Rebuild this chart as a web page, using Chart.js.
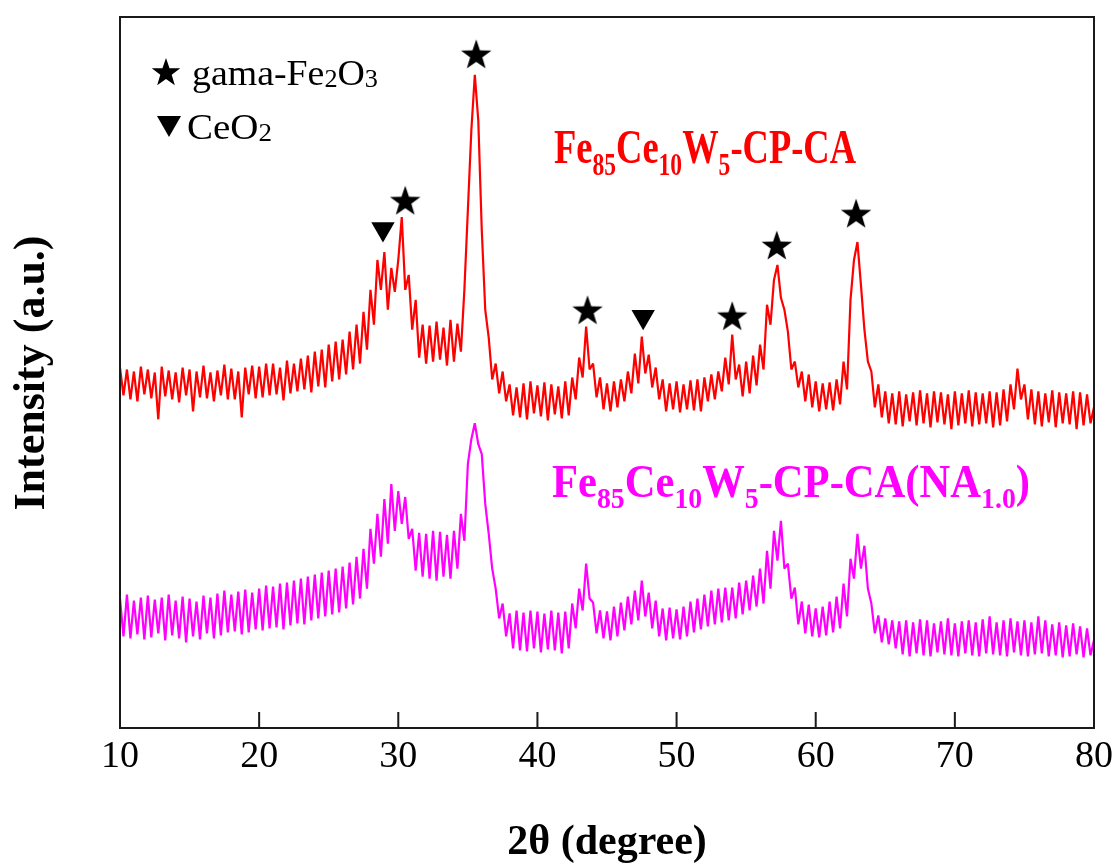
<!DOCTYPE html>
<html>
<head>
<meta charset="utf-8">
<script src="https://cdn.jsdelivr.net/npm/chart.js@4.4.0/dist/chart.umd.min.js"></script>
<style>
  html, body { margin: 0; padding: 0; background: #ffffff; }
  #wrap { width: 1119px; height: 868px; }
</style>
</head>
<body>
<div id="wrap"><canvas id="c" width="1119" height="868"></canvas></div>
<script>
// ---- 2θ sampling grid (degrees) ----
const TWO_THETA_START = 10;
const TWO_THETA_STEP = 0.25;

// ---- x-axis ticks ----
const xTicks = [10, 20, 30, 40, 50, 60, 70, 80];

// ---- Fe85Ce10W5-CP-CA (red), intensity (a.u.), one row per degree ----
const redCounts = [
  362, 334, 360, 330,   // 10
  358, 328, 363, 335,   // 11
  360, 331, 357, 310,   // 12
  363, 333, 359, 330,   // 13
  357, 327, 362, 334,   // 14
  360, 318, 358, 332,   // 15
  364, 331, 357, 328,   // 16
  359, 334, 365, 330,   // 17
  361, 330, 358, 312,   // 18
  362, 335, 364, 331,   // 19
  363, 332, 366, 334,   // 20
  366, 335, 362, 329,   // 21
  369, 336, 366, 338,   // 22
  371, 340, 374, 337,   // 23
  378, 343, 380, 342,   // 24
  385, 348, 388, 350,   // 25
  390, 355, 398, 360,   // 26
  405, 366, 418, 380,   // 27
  440, 405, 470, 440,   // 28
  478, 420, 462, 438,   // 29
  470, 513, 440, 455,   // 30
  400, 430, 372, 405,   // 31
  366, 404, 368, 408,   // 32
  370, 402, 364, 410,   // 33
  368, 406, 378, 440,   // 34
  520, 600, 656, 610,   // 35
  500, 420, 392, 350,   // 36
  366, 336, 358, 328,   // 37
  345, 314, 342, 312,   // 38
  346, 310, 348, 316,   // 39
  344, 313, 347, 309,   // 40
  345, 315, 343, 311,   // 41
  348, 314, 352, 330,   // 42
  372, 352, 403, 360,   // 43
  366, 332, 352, 320,   // 44
  346, 318, 348, 322,   // 45
  350, 328, 358, 336,   // 46
  376, 346, 393, 356,   // 47
  375, 342, 362, 330,   // 48
  350, 318, 346, 320,   // 49
  348, 317, 345, 320,   // 50
  349, 319, 350, 318,   // 51
  352, 328, 355, 330,   // 52
  358, 338, 372, 345,   // 53
  395, 350, 365, 333,   // 54
  368, 336, 374, 344,   // 55
  385, 360, 425, 405,   // 56
  450, 465, 432, 420,   // 57
  398, 360, 368, 342,   // 58
  358, 328, 355, 322,   // 59
  348, 318, 346, 320,   // 60
  347, 319, 350, 325,   // 61
  368, 340, 430, 470,   // 62
  488, 445, 400, 368,   // 63
  358, 322, 345, 312,   // 64
  338, 306, 336, 305,   // 65
  338, 303, 335, 308,   // 66
  337, 304, 339, 306,   // 67
  336, 302, 338, 307,   // 68
  337, 305, 335, 300,   // 69
  338, 304, 336, 306,   // 70
  339, 303, 337, 305,   // 71
  336, 306, 338, 302,   // 72
  337, 304, 340, 308,   // 73
  345, 320, 361, 330,   // 74
  345, 310, 340, 305,   // 75
  338, 303, 336, 307,   // 76
  339, 302, 337, 306,   // 77
  336, 305, 338, 300,   // 78
  337, 304, 335, 306,   // 79
  322                   // 80
];

// ---- Fe85Ce10W5-CP-CA(NA1.0) (magenta) ----
const magentaCounts = [
  130,  92, 134,  90,   // 10
  128,  94, 131,  89,   // 11
  133,  91, 129,  95,   // 12
  131,  88, 134,  93,   // 13
  128,  90, 132,  86,   // 14
  130,  92, 127,  89,   // 15
  133,  95, 131,  90,   // 16
  135,  93, 138,  96,   // 17
  134,  97, 137,  94,   // 18
  139,  96, 136,  99,   // 19
  140,  98, 143, 100,   // 20
  142, 101, 145,  99,   // 21
  146, 103, 148, 105,   // 22
  150, 104, 152, 108,   // 23
  154, 110, 156, 112,   // 24
  158, 114, 160, 116,   // 25
  162, 120, 166, 124,   // 26
  172, 130, 180, 140,   // 27
  200, 165, 215, 172,   // 28
  230, 185, 245, 198,   // 29
  238, 205, 232, 190,   // 30
  200, 158, 196, 152,   // 31
  195, 150, 198, 148,   // 32
  197, 152, 194, 150,   // 33
  198, 160, 215, 188,   // 34
  265, 290, 306, 285,   // 35
  275, 225, 195, 160,   // 36
  140, 110, 125,  92,   // 37
  115,  80, 118,  78,   // 38
  116,  77, 118,  80,   // 39
  117,  76, 115,  79,   // 40
  118,  78, 116,  75,   // 41
  117,  80, 125, 100,   // 42
  140, 118, 165, 130,   // 43
  126,  95, 118,  90,   // 44
  117,  88, 122,  92,   // 45
  126,  98, 132, 104,   // 46
  138, 108, 148, 112,   // 47
  136, 100, 128,  92,   // 48
  120,  88, 121,  90,   // 49
  119,  89, 122,  92,   // 50
  127,  96, 130,  99,   // 51
  134, 102, 138, 104,   // 52
  140, 106, 141, 108,   // 53
  141, 110, 146, 114,   // 54
  148, 118, 153, 122,   // 55
  160, 125, 178, 140,   // 56
  198, 168, 208, 160,   // 57
  165, 130, 141, 104,   // 58
  127,  95, 124,  92,   // 59
  120,  91, 122,  93,   // 60
  127,  96, 132, 100,   // 61
  145, 112, 170, 150,   // 62
  195, 160, 183, 140,   // 63
  125,  95, 113,  86,   // 64
  110,  84, 108,  80,   // 65
  107,  74, 108,  72,   // 66
  106,  75, 109,  73,   // 67
  108,  72, 105,  76,   // 68
  107,  74, 110,  73,   // 69
  105,  72, 107,  75,   // 70
  108,  73, 106,  72,   // 71
  109,  75, 112,  74,   // 72
  106,  73, 108,  72,   // 73
  110,  76, 107,  73,   // 74
  108,  72, 106,  74,   // 75
  112,  75, 108,  72,   // 76
  104,  73, 106,  71,   // 77
  103,  72, 105,  74,   // 78
  102,  71, 100,  73,   // 79
  88                    // 80
];

// ---- phase markers (2θ, intensity) ----
const starX = [30.5, 35.6, 43.6, 54.0, 57.2, 62.9];   // gama-Fe2O3
const starY = [530, 677, 420, 414, 485, 517];
const triX  = [28.9, 47.6];                            // CeO2
const triY  = [501, 413];

// ---------------------------------------------------------------
const toXY = (arr) => arr.map((v, i) => ({ x: TWO_THETA_START + i * TWO_THETA_STEP, y: v }));
const zip = (xs, ys) => xs.map((x, i) => ({ x: x, y: ys[i] }));

function starPath(ctx, cx, cy, R, r) {
  ctx.beginPath();
  for (let k = 0; k < 10; k++) {
    const rad = (k % 2 === 0) ? R : r;
    const a = -Math.PI / 2 + k * Math.PI / 5;
    const px = cx + rad * Math.cos(a), py = cy + rad * Math.sin(a);
    if (k === 0) ctx.moveTo(px, py); else ctx.lineTo(px, py);
  }
  ctx.closePath();
}
function makeStarImage(R) {
  const cv = document.createElement('canvas');
  cv.width = Math.ceil(2 * R + 2); cv.height = Math.ceil(2 * R + 2);
  const g = cv.getContext('2d');
  g.fillStyle = '#000';
  starPath(g, cv.width / 2, cv.height / 2 + R * 0.1, R, R * 0.4);
  g.fill();
  return cv;
}
const starImg = makeStarImage(16);

function drawRich(ctx, parts, x, baseline, mainFont, subFont, subDrop, color, targetWidth) {
  ctx.save();
  ctx.fillStyle = color;
  ctx.textAlign = 'left';
  ctx.textBaseline = 'alphabetic';
  let w = 0;
  parts.forEach(p => { ctx.font = p.sub ? subFont : mainFont; w += ctx.measureText(p.t).width; });
  const sx = targetWidth ? targetWidth / w : 1;
  ctx.translate(x, baseline);
  ctx.scale(sx, 1);
  let cx = 0;
  parts.forEach(p => {
    ctx.font = p.sub ? subFont : mainFont;
    ctx.fillText(p.t, cx, p.sub ? subDrop : 0);
    cx += ctx.measureText(p.t).width;
  });
  ctx.restore();
}

const decor = {
  id: 'decor',
  afterDraw(chart) {
    const { ctx, chartArea: a, scales: { x } } = chart;
    ctx.save();
    // frame
    ctx.strokeStyle = '#1a1a1a';
    ctx.lineWidth = 2;
    ctx.strokeRect(a.left, a.top, a.right - a.left, a.bottom - a.top);
    // inward tick marks on bottom axis
    ctx.beginPath();
    x.ticks.forEach(t => {
      const px = x.getPixelForValue(t.value);
      if (px > a.left + 2 && px < a.right - 2) {
        ctx.moveTo(px, a.bottom);
        ctx.lineTo(px, a.bottom - 16);
      }
    });
    ctx.stroke();

    // y-axis title
    ctx.save();
    ctx.translate(44, 373);
    ctx.rotate(-Math.PI / 2);
    ctx.font = 'bold 44px "Liberation Serif"';
    ctx.fillStyle = '#000';
    ctx.textAlign = 'center';
    ctx.textBaseline = 'alphabetic';
    ctx.fillText('Intensity (a.u.)', 0, 0);
    ctx.restore();

    // legend
    ctx.fillStyle = '#000';
    starPath(ctx, 166, 73, 15, 6);
    ctx.fill();
    drawRich(ctx, [{ t: 'gama-Fe' }, { t: '2', sub: true }, { t: 'O' }, { t: '3', sub: true }],
      192, 85, '36px "Liberation Serif"', '25px "Liberation Serif"', 2, '#000', 186);
    ctx.beginPath();
    ctx.moveTo(157, 116); ctx.lineTo(181, 116); ctx.lineTo(169, 137); ctx.closePath();
    ctx.fill();
    drawRich(ctx, [{ t: 'CeO' }, { t: '2', sub: true }],
      187, 139, '36px "Liberation Serif"', '25px "Liberation Serif"', 2, '#000', 85);

    // sample labels
    drawRich(ctx, [{ t: 'Fe' }, { t: '85', sub: true }, { t: 'Ce' }, { t: '10', sub: true },
                   { t: 'W' }, { t: '5', sub: true }, { t: '-CP-CA' }],
      554, 163, 'bold 48px "Liberation Serif"', 'bold 31px "Liberation Serif"', 12, '#ff0000', 302);
    drawRich(ctx, [{ t: 'Fe' }, { t: '85', sub: true }, { t: 'Ce' }, { t: '10', sub: true },
                   { t: 'W' }, { t: '5', sub: true }, { t: '-CP-CA(NA' }, { t: '1.0', sub: true }, { t: ')' }],
      552, 497, 'bold 46px "Liberation Serif"', 'bold 30px "Liberation Serif"', 11, '#ff00ff', 478);
    ctx.restore();
  }
};

new Chart(document.getElementById('c'), {
  type: 'line',
  data: {
    datasets: [
      { label: 'stars', type: 'scatter', data: zip(starX, starY), pointStyle: starImg,
        pointRadius: 16, showLine: false, order: 0, backgroundColor: '#000', borderColor: '#000' },
      { label: 'triangles', type: 'scatter', data: zip(triX, triY), pointStyle: 'triangle',
        pointRotation: 180, pointRadius: 13.5, showLine: false, order: 0,
        backgroundColor: '#000', borderColor: '#000', borderWidth: 0 },
      { label: 'Fe85Ce10W5-CP-CA', data: toXY(redCounts), borderColor: '#ff0000',
        borderWidth: 2.2, borderJoinStyle: 'bevel', pointRadius: 0, tension: 0, order: 2 },
      { label: 'Fe85Ce10W5-CP-CA(NA1.0)', data: toXY(magentaCounts), borderColor: '#ff00ff',
        borderWidth: 2.2, borderJoinStyle: 'bevel', pointRadius: 0, tension: 0, order: 1 }
    ]
  },
  options: {
    responsive: false,
    animation: false,
    events: [],
    layout: { padding: { left: 120, right: 24, top: 14, bottom: 0 } },
    plugins: { legend: { display: false }, tooltip: { enabled: false } },
    scales: {
      x: {
        type: 'linear', min: 10, max: 80,
        afterBuildTicks: (s) => { s.ticks = xTicks.map(v => ({ value: v })); },
        afterFit: (s) => { s.height = 140; },
        grid: { display: false, drawTicks: false },
        border: { display: false },
        ticks: { color: '#000', padding: 6, maxRotation: 0,
                 font: { family: '"Liberation Serif"', size: 38 } },
        title: { display: true, text: '2θ (degree)', color: '#000',
                 padding: { top: 0, bottom: 0 },
                 font: { family: '"Liberation Serif"', size: 42, weight: 'bold' } }
      },
      y: { type: 'linear', min: 0, max: 714, display: false }
    }
  },
  plugins: [decor]
});
</script>
</body>
</html>
